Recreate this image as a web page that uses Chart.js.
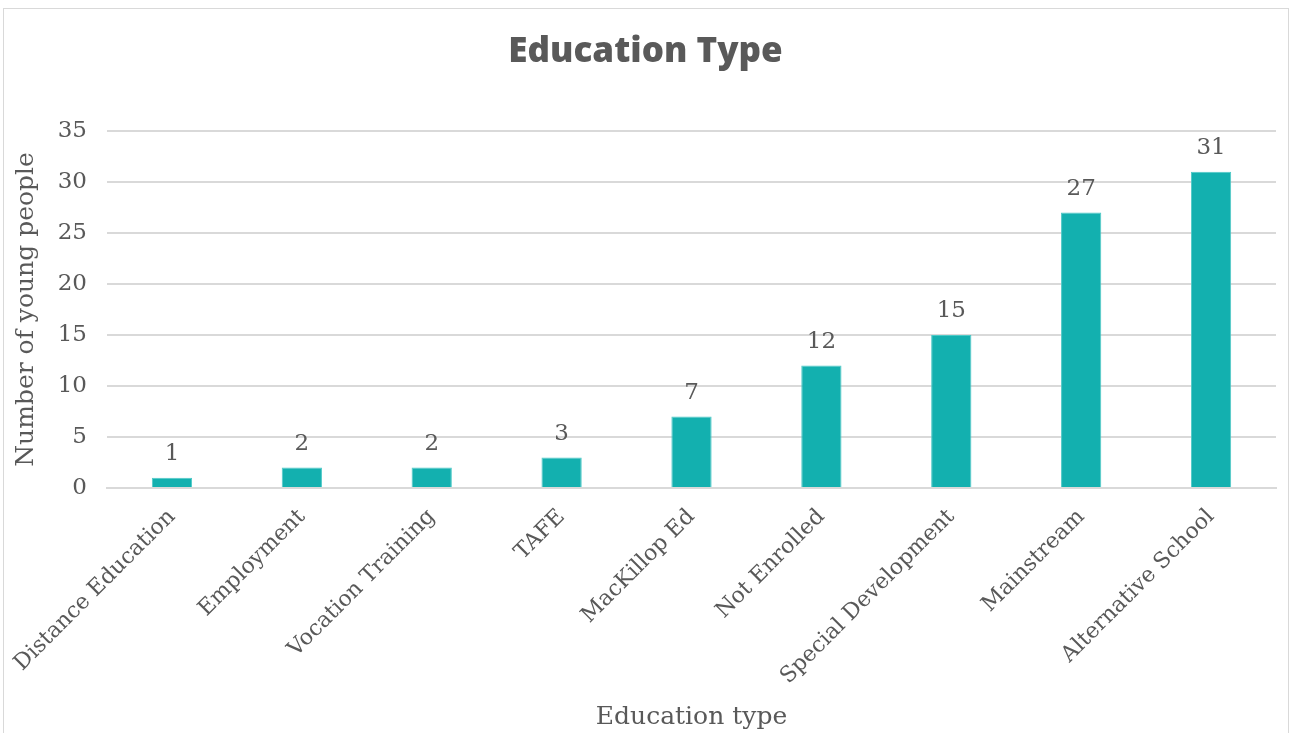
<!DOCTYPE html>
<html>
<head>
<meta charset="utf-8">
<script src="https://cdn.jsdelivr.net/npm/chart.js@4/dist/chart.umd.min.js"></script>
<style>
  html, body { margin: 0; padding: 0; background: #fff; }
  #frame { position: absolute; left: 3px; top: 8px; width: 1284px; height: 740px; border: 1px solid #d9d9d9; }
  #wrap { position: absolute; left: 0; top: 0; width: 1291px; height: 733px; }
</style>
</head>
<body>
<div id="frame"></div>
<div id="wrap"><canvas id="eduChart" width="1291" height="733"></canvas></div>
<script>
// chart data
const categories = ['Distance Education', 'Employment', 'Vocation Training', 'TAFE', 'MacKillop Ed',
  'Not Enrolled', 'Special Development', 'Mainstream', 'Alternative School'];
const youngPeople = [1, 2, 2, 3, 7, 12, 15, 27, 31];
const yTicks = [0, 5, 10, 15, 20, 25, 30, 35];

const textColor = '#595959';
const serif = "'DejaVu Serif', serif";

// draws the value above each bar
const valueLabels = {
  id: 'valueLabels',
  afterDatasetsDraw(chart) {
    const ctx = chart.ctx;
    const meta = chart.getDatasetMeta(0);
    ctx.save();
    ctx.font = '23px ' + serif;
    ctx.fillStyle = textColor;
    ctx.textAlign = 'center';
    ctx.textBaseline = 'bottom';
    meta.data.forEach((bar, i) => {
      ctx.fillText(String(youngPeople[i]), bar.x, bar.y - 12);
    });
    ctx.restore();
  }
};

new Chart(document.getElementById('eduChart'), {
  type: 'bar',
  data: {
    labels: categories,
    datasets: [{
      data: youngPeople,
      backgroundColor: '#13b0af',
      borderColor: '#4ec9c7',
      borderWidth: 1,
      categoryPercentage: 1,
      barPercentage: 0.31
    }]
  },
  options: {
    responsive: false,
    animation: false,
    layout: { padding: 0 },
    plugins: {
      legend: { display: false },
      tooltip: { enabled: false },
      title: {
        display: true,
        text: 'Education Type',
        color: textColor,
        font: { family: "'Open Sans', sans-serif", size: 35, weight: '800', lineHeight: 1.2 },
        padding: { top: 31, bottom: 58 }
      }
    },
    scales: {
      y: {
        min: 0,
        max: 35,
        afterBuildTicks: axis => { axis.ticks = yTicks.map(v => ({ value: v })); },
        afterFit: axis => { axis.width = 107; },
        border: { display: false },
        grid: { color: '#d9d9d9', lineWidth: 2, drawTicks: false },
        ticks: {
          color: textColor,
          padding: 20,
          font: { family: serif, size: 23 }
        },
        title: {
          display: true,
          text: 'Number of young people',
          color: textColor,
          font: { family: serif, size: 25 },
          padding: { top: 11, bottom: 0 }
        }
      },
      x: {
        afterFit: axis => {
          axis.height = 245;
          axis.paddingLeft = 0;
          axis.paddingRight = 15;
        },
        border: { display: true, color: '#d9d9d9', width: 2 },
        grid: { display: false, drawTicks: false },
        ticks: {
          color: textColor,
          padding: 16,
          minRotation: 45,
          maxRotation: 45,
          autoSkip: false,
          font: { family: serif, size: 22 }
        },
        title: {
          display: true,
          text: 'Education type',
          color: textColor,
          font: { family: serif, size: 25 },
          padding: { top: 4, bottom: 1 }
        }
      }
    }
  },
  plugins: [valueLabels]
});
</script>
</body>
</html>
